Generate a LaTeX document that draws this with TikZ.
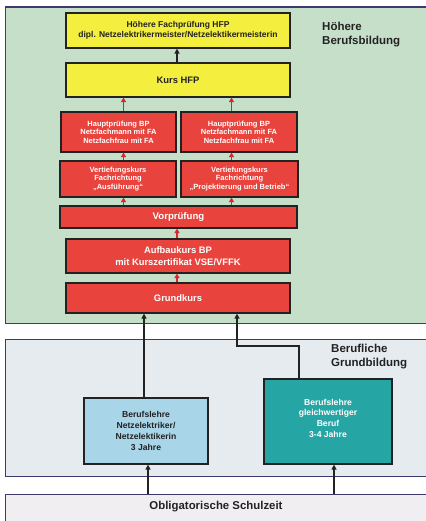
\documentclass[tikz,border=0pt]{standalone}
\usepackage{fontspec}
\setmainfont{Liberation Sans}
\usetikzlibrary{arrows.meta}
\definecolor{panelgreen}{HTML}{C6DFC9}
\definecolor{panelblue}{HTML}{E6EBF0}
\definecolor{panelgray}{HTML}{F1EEF1}
\definecolor{panelborder}{HTML}{3C3A6E}
\definecolor{boxyellow}{HTML}{F4EE3E}
\definecolor{boxred}{HTML}{E8433C}
\definecolor{boxlblue}{HTML}{A9D5E8}
\definecolor{boxteal}{HTML}{25A5A4}
\definecolor{arrred}{HTML}{D8262A}
\definecolor{txtdark}{HTML}{222222}
\tikzset{
  panel/.style={draw=panelborder, line width=1.3pt, anchor=north west, inner sep=0pt},
  basebox/.style={draw=txtdark, line width=1.2pt, align=center, inner sep=1pt, font=\bfseries},
  ybox/.style={basebox, fill=boxyellow, text=txtdark},
  rbox/.style={basebox, fill=boxred, text=white},
  lbbox/.style={basebox, fill=boxlblue, text=txtdark},
  tbox/.style={basebox, fill=boxteal, text=white},
  smalltxt/.style={font=\bfseries\fontsize{7.5}{8.6}\selectfont},
  redarr/.style={draw=arrred, line width=1.2pt, -{Triangle[length=4.5pt,width=5pt]}},
  blkarr/.style={draw=txtdark, line width=1.8pt, -{Triangle[length=5pt,width=5pt]}},
  heading/.style={font=\bfseries\fontsize{11.5}{14}\selectfont, align=left, anchor=north west, text=txtdark, inner sep=0pt}
}
\begin{document}
\begin{tikzpicture}[x=1pt,y=-1pt]
\useasboundingbox (0,0) rectangle (425,521);
\fill[white] (0,0) rectangle (425,521);
% panels
\node[panel, fill=panelgreen, minimum width=425pt, minimum height=316pt] (p1) at (4.5,6.5) {};
\node[panel, fill=panelblue, minimum width=425pt, minimum height=137pt] (p2) at (4.5,339) {};
\node[panel, fill=panelgray, minimum width=425pt, minimum height=40pt] (p3) at (4.5,494) {};
\node[heading] (h1) at (322,21.5) {Höhere\\Berufsbildung};
\node[heading] (h2) at (331,343.5) {Berufliche\\Grundbildung};
\node[font=\bfseries\fontsize{11.4}{13}\selectfont, text=txtdark, inner sep=0pt] (schul) at (216,506.5) {Obligatorische Schulzeit};
% boxes
\node[ybox, minimum width=224pt, minimum height=35pt, font=\bfseries\fontsize{8.5}{10.5}\selectfont] (hfp) at (178,30.5) {Höhere Fachprüfung HFP\\dipl. Netzelektrikermeister/Netzelektikermeisterin};
\node[ybox, minimum width=224pt, minimum height=34pt, font=\bfseries\fontsize{9.4}{11}\selectfont] (kurs) at (178,80) {Kurs HFP};
\node[rbox, smalltxt, minimum width=115pt, minimum height=40pt] (hpl) at (118.5,132) {Hauptprüfung BP\\Netzfachmann mit FA\\Netzfachfrau mit FA};
\node[rbox, smalltxt, minimum width=116pt, minimum height=40pt] (hpr) at (239,132) {Hauptprüfung BP\\Netzfachmann mit FA\\Netzfachfrau mit FA};
\node[rbox, smalltxt, minimum width=116pt, minimum height=36pt] (vkl) at (118,179) {Vertiefungskurs\\Fachrichtung\\„Ausführung“};
\node[rbox, smalltxt, minimum width=117pt, minimum height=36pt] (vkr) at (239.5,179) {Vertiefungskurs\\Fachrichtung\\„Projektierung und Betrieb“};
\node[rbox, minimum width=237pt, minimum height=22pt, font=\bfseries\fontsize{9.6}{11}\selectfont] (vor) at (178.5,217) {Vorprüfung};
\node[rbox, minimum width=224pt, minimum height=34pt, font=\bfseries\fontsize{9.4}{12}\selectfont] (auf) at (178,256) {Aufbaukurs BP\\mit Kurszertifikat VSE/VFFK};
\node[rbox, minimum width=224pt, minimum height=30pt, font=\bfseries\fontsize{9.4}{11}\selectfont] (grund) at (178,298) {Grundkurs};
\node[lbbox, minimum width=124pt, minimum height=66pt, font=\bfseries\fontsize{8.6}{11.2}\selectfont] (bl) at (146,431) {Berufslehre\\Netzelektriker/\\Netzelektikerin\\3 Jahre};
\node[tbox, minimum width=128pt, minimum height=85pt,
  label={[name=brtext, align=center, text=white, inner sep=0pt, font=\bfseries\fontsize{8.6}{10.7}\selectfont, yshift=3.5pt]center:Berufslehre\\gleichwertiger\\Beruf\\3-4 Jahre}] (br) at (328,421.5) {};
% helper x positions
\coordinate (xa) at (123.5,0);
\coordinate (xb) at (231.5,0);
\coordinate (xc) at (177,0);
\coordinate (xd) at (144,0);
\coordinate (xe) at (237,0);
\coordinate (xf) at (299,0);
\coordinate (xg) at (148,0);
\coordinate (xh) at (334,0);
\coordinate (bend1) at (299,346);
\coordinate (bend2) at (237,346);
% arrows in upper panel
\draw[blkarr, line width=1.3pt] (kurs.north -| xc) -- (hfp.south -| xc);
\draw[redarr] (hpl.north -| xa) -- (kurs.south -| xa);
\draw[redarr] (hpr.north -| xb) -- (kurs.south -| xb);
\draw[redarr] (vkl.north -| xa) -- (hpl.south -| xa);
\draw[redarr] (vkr.north -| xb) -- (hpr.south -| xb);
\draw[redarr] (vor.north -| xa) -- (vkl.south -| xa);
\draw[redarr] (vor.north -| xb) -- (vkr.south -| xb);
\draw[redarr] (auf.north -| xc) -- (vor.south -| xc);
\draw[redarr] (grund.north -| xc) -- (auf.south -| xc);
% arrows from Grundbildung
\draw[blkarr] (bl.north -| xd) -- (grund.south -| xd);
\draw[blkarr] (br.north -| xf) -- (bend1) -- (bend2) -- (grund.south -| xe);
\draw[blkarr] (p3.north -| xg) -- (bl.south -| xg);
\draw[blkarr] (p3.north -| xh) -- (br.south -| xh);
\end{tikzpicture}
\end{document}
